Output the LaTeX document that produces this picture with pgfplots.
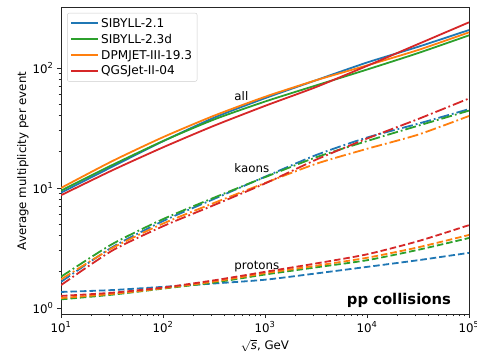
\documentclass[border=0pt]{standalone}
\usepackage{pgfplots}
\pgfplotsset{compat=1.18}
\usepackage{fontspec}
\setmainfont{DejaVu Sans}
\definecolor{tblue}{HTML}{1F77B4}
\definecolor{torange}{HTML}{FF7F0E}
\definecolor{tgreen}{HTML}{2CA02C}
\definecolor{tred}{HTML}{D62728}
\tikzset{
  pdash/.style={dash pattern=on 6.5pt off 3pt},
  kdash/.style={dash pattern=on 11pt off 3pt on 1.8pt off 3pt},
}
\begin{document}
\begin{tikzpicture}
\useasboundingbox (0,0) rectangle (477pt,351pt);
\begin{axis}[
  at={(61pt,37pt)}, anchor=south west,
  scale only axis, width=408pt, height=306pt,
  xmode=log, ymode=log,
  xmin=10, xmax=100000, ymin=0.891, ymax=316,
  xtick={10,100,1000,10000,100000},
  xticklabels={10\textsuperscript{1},10\textsuperscript{2},10\textsuperscript{3},10\textsuperscript{4},10\textsuperscript{5}},
  ytick={1,10,100},
  yticklabels={10\textsuperscript{0},10\textsuperscript{1},10\textsuperscript{2}},
  tick align=outside, xtick pos=bottom, ytick pos=left,
  major tick length=4.2pt, minor tick length=2.4pt,
  axis line style={line width=1pt, black!85},
  every tick/.style={line width=0.9pt, black!85},
  tick label style={font=\fontsize{11.8}{14}\selectfont},
  label style={font=\fontsize{11.8}{14}\selectfont},
  xlabel={$\sqrt{\mbox{\itshape s}}$, GeV},
  ylabel={Average multiplicity per event},
  ylabel style={yshift=-3pt},
  legend cell align=left,
  legend style={at={(0.015,0.984)}, anchor=north west, draw=black!20, rounded corners=2pt,
    font=\fontsize{12.1}{14}\selectfont, row sep=1.4pt, inner sep=3pt},
  legend image code/.code={\path (0pt,0pt) -- (27pt,0pt);\draw[#1,line width=2pt,sharp plot] (0pt,0pt) -- (24pt,0pt);},
  every axis plot/.append style={line width=1.8pt, smooth, tension=0.4},
]
% all (solid)
\addplot[tblue] coordinates {(10,9.13) (31.62,15.0) (100,24.5) (316.2,38.5) (1000,56) (3162,79) (10000,111) (31623,150) (100000,207)};
\addlegendentry{SIBYLL-2.1}
\addplot[tgreen] coordinates {(10,9.5) (31.62,15.5) (100,24.6) (316.2,37.2) (1000,52.5) (3162,71.5) (10000,97) (31623,133) (100000,187)};
\addlegendentry{SIBYLL-2.3d}
\addplot[torange] coordinates {(10,10.0) (31.62,16.7) (100,26.5) (316.2,40) (1000,57.5) (3162,79) (10000,105) (31623,141) (100000,198)};
\addlegendentry{DPMJET-III-19.3}
\addplot[tred] coordinates {(10,8.7) (31.62,14.0) (100,21.8) (316.2,33.0) (1000,48.3) (3162,69.3) (10000,104) (31623,158) (100000,240)};
\addlegendentry{QGSJet-II-04}
% kaons (dash-dot)
\addplot[tblue,kdash,forget plot] coordinates {(10,1.65) (31.62,3.2) (100,5.3) (316.2,8.1) (1000,12.4) (3162,18.8) (10000,26.3) (31623,34.3) (100000,45.4)};
\addplot[tgreen,kdash,forget plot] coordinates {(10,1.82) (31.62,3.4) (100,5.5) (316.2,8.3) (1000,12.3) (3162,18.0) (10000,24.6) (31623,33) (100000,44.1)};
\addplot[torange,kdash,forget plot] coordinates {(10,1.73) (31.62,3.15) (100,5.05) (316.2,7.5) (1000,11.0) (3162,15.9) (10000,21.2) (31623,27.8) (100000,39.8)};
\addplot[tred,kdash,forget plot] coordinates {(10,1.55) (31.62,3.0) (100,4.8) (316.2,7.2) (1000,10.9) (3162,17.2) (10000,25.8) (31623,37.5) (100000,55.7)};
% protons (dashed)
\addplot[tblue,pdash,forget plot] coordinates {(10,1.36) (31.62,1.41) (100,1.5) (316.2,1.6) (1000,1.72) (3162,1.94) (10000,2.2) (31623,2.5) (100000,2.88)};
\addplot[tgreen,pdash,forget plot] coordinates {(10,1.18) (31.62,1.29) (100,1.45) (316.2,1.63) (1000,1.9) (3162,2.18) (10000,2.5) (31623,3.05) (100000,3.83)};
\addplot[torange,pdash,forget plot] coordinates {(10,1.21) (31.62,1.31) (100,1.46) (316.2,1.66) (1000,1.95) (3162,2.25) (10000,2.62) (31623,3.2) (100000,4.06)};
\addplot[tred,pdash,forget plot] coordinates {(10,1.26) (31.62,1.34) (100,1.48) (316.2,1.7) (1000,2.0) (3162,2.35) (10000,2.8) (31623,3.6) (100000,4.9)};
% annotations
\node[anchor=west, font=\fontsize{11.8}{14}\selectfont, inner sep=0pt] at (axis cs:500,58.5) {all};
\node[anchor=west, font=\fontsize{11.8}{14}\selectfont, inner sep=0pt] at (axis cs:500,14.7) {kaons};
\node[anchor=west, font=\fontsize{11.8}{14}\selectfont, inner sep=0pt] at (axis cs:500,2.2) {protons};
\node[anchor=base east, font=\fontsize{14.8}{17}\selectfont\bfseries, inner sep=0pt] at (rel axis cs:0.956,0.032) {pp collisions};
\end{axis}
\end{tikzpicture}
\end{document}
